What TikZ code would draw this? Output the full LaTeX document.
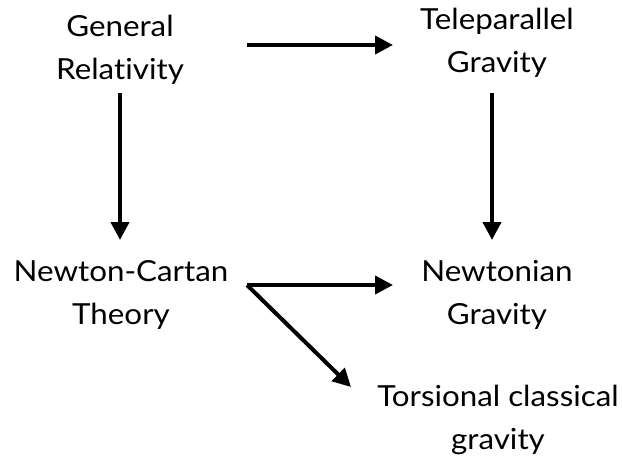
\documentclass[tikz,border=0pt]{standalone}
\usepackage{fontspec}
\setmainfont{Lato}[Ligatures={NoCommon}, FakeStretch=1.08]
\usetikzlibrary{arrows.meta}
\tikzset{
  lbl/.style={align=center, inner sep=0pt, font=\fontsize{29}{43}\selectfont},
  arr/.style={line width=4pt, -{Triangle[length=18pt,width=18pt]}}
}
\begin{document}
\begin{tikzpicture}[x=1pt,y=-1pt]
\useasboundingbox[fill=white] (0,0) rectangle (622,463);
\node[lbl] (gr) at (120,50) {General\\Relativity};
\node[lbl] (tp) at (497,43) {Teleparallel\\Gravity};
\node[lbl] (nc) at (121,295) {Newton-Cartan\\Theory};
\node[lbl] (ng) at (497,295) {Newtonian\\Gravity};
\node[lbl] (tc) at (498,420) {Torsional classical\\gravity};
\coordinate (a1s) at (247,45);
\coordinate (a1e) at (393,45);
\coordinate (a2s) at (120,93);
\coordinate (a2e) at (120,240);
\coordinate (a3s) at (492,93);
\coordinate (a3e) at (492,240);
\coordinate (a4s) at (247,285);
\coordinate (a4e) at (393,285);
\coordinate (a5e) at (351,387);
\draw[arr] (a1s) -- (a1e);
\draw[arr] (a2s) -- (a2e);
\draw[arr] (a3s) -- (a3e);
\draw[arr] (a4s) -- (a4e);
\draw[arr] (a4s) -- (a5e);
\end{tikzpicture}
\end{document}
